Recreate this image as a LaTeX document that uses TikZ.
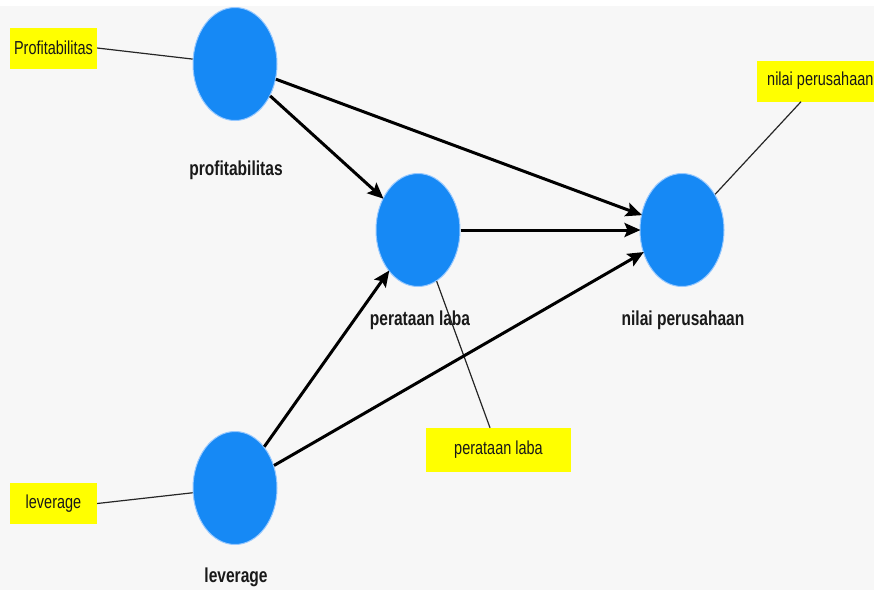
\documentclass[tikz,border=0pt]{standalone}
\usepackage{fontspec}
\setmainfont{Liberation Sans}[FakeStretch=0.77]
\usetikzlibrary{shapes.geometric,arrows.meta}
\definecolor{bg}{HTML}{F7F7F7}
\definecolor{lvblue}{RGB}{22,137,245}
\definecolor{lvedge}{RGB}{150,200,255}
\definecolor{lvyellow}{RGB}{255,255,0}
\tikzset{
  latent/.style={ellipse, fill=lvblue, draw=lvedge, line width=1pt, minimum width=84pt, minimum height=113pt, inner sep=0pt},
  lvlabel/.style={font=\fontsize{20.2}{22}\selectfont\bfseries, text=black!90, inner sep=0pt},
  indbox/.style={fill=lvyellow, draw=none, inner sep=0pt, font=\fontsize{18.8}{20}\selectfont, text=black!90},
  pathline/.style={line width=3pt, -{Stealth[length=16pt,width=14pt,inset=3pt]}, shorten >=-1pt},
  loadline/.style={line width=1.2pt, black!85}
}
\begin{document}
\begin{tikzpicture}[x=1pt,y=-1pt]
\useasboundingbox (0,0) rectangle (874,590);
\clip (0,0) rectangle (874,590);
\fill[bg] (0,0) rectangle (874,590);
\fill[white] (0,0) rectangle (874,6);
% latent variables
\node[latent] (prof) at (235,64) {};
\node[latent] (pl) at (418,230) {};
\node[latent] (nv) at (682,230) {};
\node[latent] (lev) at (235,488) {};
% labels
\node[lvlabel] (profL) at (236,170) {profitabilitas};
\node[lvlabel] (plL) at (420,320) {perataan laba};
\node[lvlabel] (nvL) at (683,320) {nilai perusahaan};
\node[lvlabel] (levL) at (236,577) {leverage};
% indicator boxes
\node[indbox, minimum width=87pt, minimum height=41pt] (bP) at (53.5,48) {Profitabilitas};
\node[indbox, minimum width=87pt, minimum height=41pt] (bL) at (53.5,503.5) {leverage};
\node[indbox, minimum width=145pt, minimum height=44pt] (bPL) at (498.5,450) {perataan laba};
\node[indbox, minimum height=41pt, inner xsep=10pt, anchor=west] (bNV) at (757,81) {nilai perusahaan};
% loadings
\draw[loadline] (bP.east) -- (prof);
\draw[loadline] (bL.east) -- (lev);
\coordinate (bPLtop) at ([xshift=-8.5pt]bPL.north);
\draw[loadline] (bPLtop) -- (pl);
\coordinate (bNVbot) at ([xshift=44pt]bNV.south west);
\draw[loadline] (bNVbot) -- (nv);
% paths
\draw[pathline] (prof) -- (nv);
\draw[pathline] (prof) -- (pl);
\draw[pathline] (pl) -- (nv);
\draw[pathline] (lev) -- (pl);
\draw[pathline] (lev) -- (nv);
\end{tikzpicture}
\end{document}
